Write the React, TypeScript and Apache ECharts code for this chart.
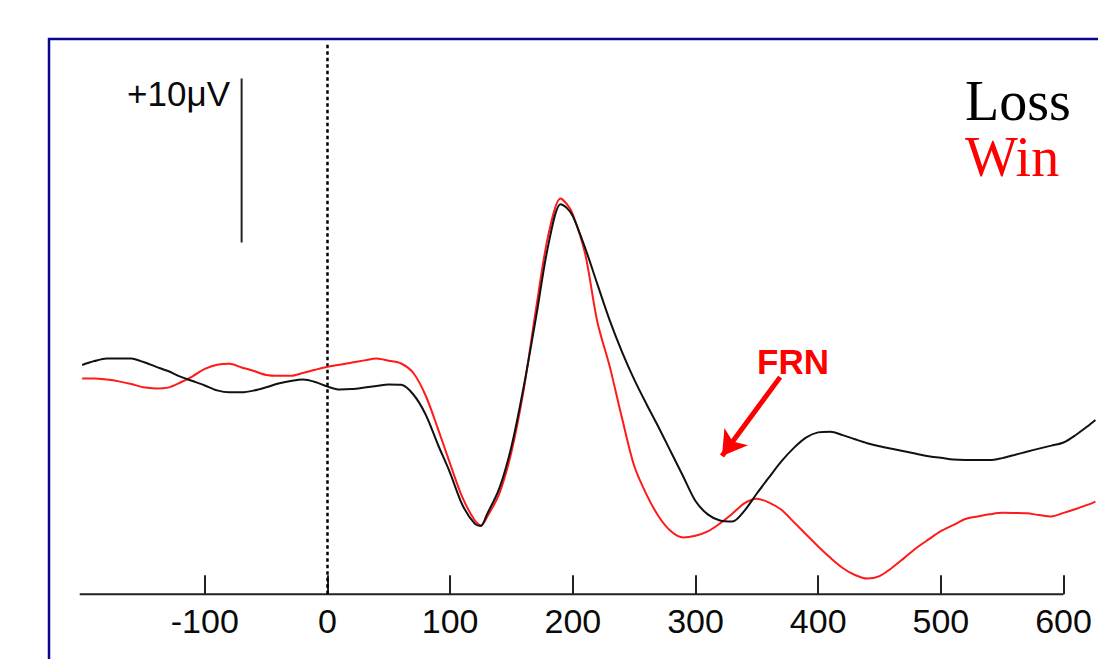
import React, { useEffect, useRef } from "react";
import * as echarts from "echarts";

const times = [
  -200, -190, -180, -170, -160, -150, -140, -130, -120, -110, -100, -90, -80, -70, -60, -50, -40, -30, -20, -10,
  0, 10, 20, 30, 40, 50, 60, 70, 80, 90, 100, 110, 120, 125, 130, 140, 150, 160, 170, 180, 190, 195, 200, 210,
  220, 230, 240, 250, 260, 270, 280, 290, 300, 310, 320, 330, 340, 350, 360, 370, 380, 390, 400, 410, 420, 430,
  440, 450, 460, 470, 480, 490, 500, 510, 520, 530, 540, 550, 560, 570, 580, 590, 600, 610, 620, 626,
];

const lossValues = [
  0.98, 1.22, 1.38, 1.38, 1.37, 1.16, 0.88, 0.61, 0.27, 0.0, -0.27, -0.57, -0.69, -0.69, -0.58, -0.38, -0.15, 0.0,
  0.09, -0.06, -0.34, -0.52, -0.49, -0.4, -0.3, -0.21, -0.23, -0.82, -2.04, -3.87, -5.61, -7.56, -8.7, -8.84,
  -8.13, -6.56, -3.98, -0.33, 3.88, 8.29, 10.79, 10.56, 10.06, 8.13, 5.91, 3.72, 1.8, 0.1, -1.4, -2.83, -4.33,
  -5.82, -7.32, -8.13, -8.51, -8.57, -7.9, -6.86, -5.87, -4.9, -4.09, -3.45, -3.13, -3.09, -3.3, -3.55, -3.79,
  -3.98, -4.13, -4.28, -4.43, -4.59, -4.68, -4.79, -4.82, -4.82, -4.82, -4.7, -4.51, -4.31, -4.12, -3.94, -3.75,
  -3.29, -2.74, -2.38,
];

const winValues = [
  0.16, 0.16, 0.09, -0.02, -0.18, -0.38, -0.45, -0.4, -0.09, 0.29, 0.74, 0.99, 1.05, 0.83, 0.61, 0.37, 0.32, 0.32,
  0.49, 0.69, 0.87, 0.99, 1.13, 1.26, 1.38, 1.24, 1.07, 0.49, -0.88, -2.9, -5.05, -7.1, -8.49, -8.8, -8.3, -6.88,
  -4.31, -0.5, 4.4, 8.9, 11.13, 10.8, 10.17, 7.78, 3.6, 0.91, -2.23, -5.17, -6.91, -8.26, -9.16, -9.54, -9.43,
  -9.17, -8.68, -8.09, -7.45, -7.18, -7.41, -7.85, -8.59, -9.34, -10.09, -10.78, -11.4, -11.83, -12.05, -11.9,
  -11.4, -10.8, -10.18, -9.66, -9.16, -8.79, -8.41, -8.26, -8.13, -8.04, -8.05, -8.07, -8.17, -8.26, -8.04,
  -7.8, -7.54, -7.35,
];

const tickLabels = [-100, 0, 100, 200, 300, 400, 500, 600];
const seriesNames = ["Loss", "Win"];
const scaleBar = { time: -70, from: 8.45, to: 18.45, label: "+10μV" };
const axisLineRange = [-202, 600];
const annotation = { text: "FRN", from: [369, 0.24], to: [321.6, -4.57] };

const X_MIN = -202;
const X_MAX = 626;
const Y_MIN = -13;
const Y_MAX = 20.8;

export default function App() {
  const ref = useRef<HTMLDivElement>(null);

  useEffect(() => {
    if (!ref.current) return;
    const chart = echarts.init(ref.current, null, { renderer: "svg" });
    const pair = (vals: number[]) => times.map((t, i) => [t, vals[i]]);

    chart.setOption({
      animation: false,
      backgroundColor: "#ffffff",
      grid: { left: 79.7, right: 2.6, top: 40, bottom: 64.8 },
      legend: {
        orient: "vertical",
        left: 960,
        top: 73,
        padding: 0,
        itemGap: 0,
        itemWidth: 0,
        icon: "none",
        selectedMode: false,
        textStyle: { fontFamily: "Liberation Serif", fontSize: 56 },
        data: [
          { name: seriesNames[0], textStyle: { color: "#000000" } },
          { name: seriesNames[1], textStyle: { color: "#ff0000" } },
        ],
      },
      xAxis: {
        type: "value",
        min: X_MIN,
        max: X_MAX,
        axisLine: { show: false, onZero: false },
        splitLine: { show: false },
        axisTick: {
          show: true,
          inside: true,
          length: 19,
          customValues: tickLabels,
          lineStyle: { color: "#222222", width: 2 },
        },
        axisLabel: {
          customValues: tickLabels,
          margin: 10,
          fontFamily: "Liberation Sans",
          fontSize: 34,
          color: "#0a0a0a",
        },
      },
      yAxis: {
        type: "value",
        min: Y_MIN,
        max: Y_MAX,
        show: false,
        splitLine: { show: false },
      },
      graphic: [
        {
          type: "rect",
          shape: { x: 49, y: 39, width: 1200, height: 800 },
          style: { fill: "none", stroke: "#08088f", lineWidth: 2.5 },
          silent: true,
        },
        {
          type: "text",
          x: 230,
          y: 93,
          style: {
            text: scaleBar.label,
            fontFamily: "Liberation Sans",
            fontSize: 35,
            fill: "#0a0a0a",
            align: "right",
            verticalAlign: "middle",
          },
        },
        {
          type: "text",
          x: 757,
          y: 361,
          style: {
            text: annotation.text,
            fontFamily: "Liberation Sans",
            fontWeight: "bold",
            fontSize: 35,
            fill: "#ff0000",
            align: "left",
            verticalAlign: "middle",
          },
        },
      ],
      series: [
        {
          name: "axis",
          type: "line",
          data: [
            [axisLineRange[0], Y_MIN],
            [axisLineRange[1], Y_MIN],
          ],
          symbol: "none",
          silent: true,
          clip: false,
          lineStyle: { color: "#222222", width: 2 },
          z: 1,
        },
        {
          name: "onset",
          type: "line",
          data: [
            [0, Y_MIN],
            [0, Y_MAX - 0.1],
          ],
          symbol: "none",
          silent: true,
          lineStyle: { color: "#000000", width: 2.5, type: [3.5, 3] },
          z: 1,
        },
        {
          name: "scale",
          type: "line",
          data: [
            [scaleBar.time, scaleBar.from],
            [scaleBar.time, scaleBar.to],
          ],
          symbol: "none",
          silent: true,
          lineStyle: { color: "#222222", width: 2 },
          z: 1,
        },
        {
          name: seriesNames[1],
          type: "line",
          data: pair(winValues),
          symbol: "none",
          smooth: 0.3,
          color: "#ff1a1a",
          lineStyle: { color: "#ff1a1a", width: 2 },
          z: 2,
        },
        {
          name: seriesNames[0],
          type: "line",
          data: pair(lossValues),
          symbol: "none",
          smooth: 0.3,
          color: "#111111",
          lineStyle: { color: "#111111", width: 2 },
          z: 3,
        },
        {
          name: "arrow",
          type: "line",
          data: [],
          silent: true,
          markLine: {
            silent: true,
            symbol: ["none", "arrow"],
            symbolSize: [22, 24],
            label: { show: false },
            lineStyle: { color: "#ff0000", width: 5, type: "solid" },
            data: [
              [
                { coord: annotation.from },
                { coord: annotation.to },
              ],
            ],
          },
        },
      ],
    });

    return () => chart.dispose();
  }, []);

  return (
    <div
      ref={ref}
      style={{ position: "absolute", left: 0, top: 0, width: 1098, height: 659 }}
    />
  );
}
